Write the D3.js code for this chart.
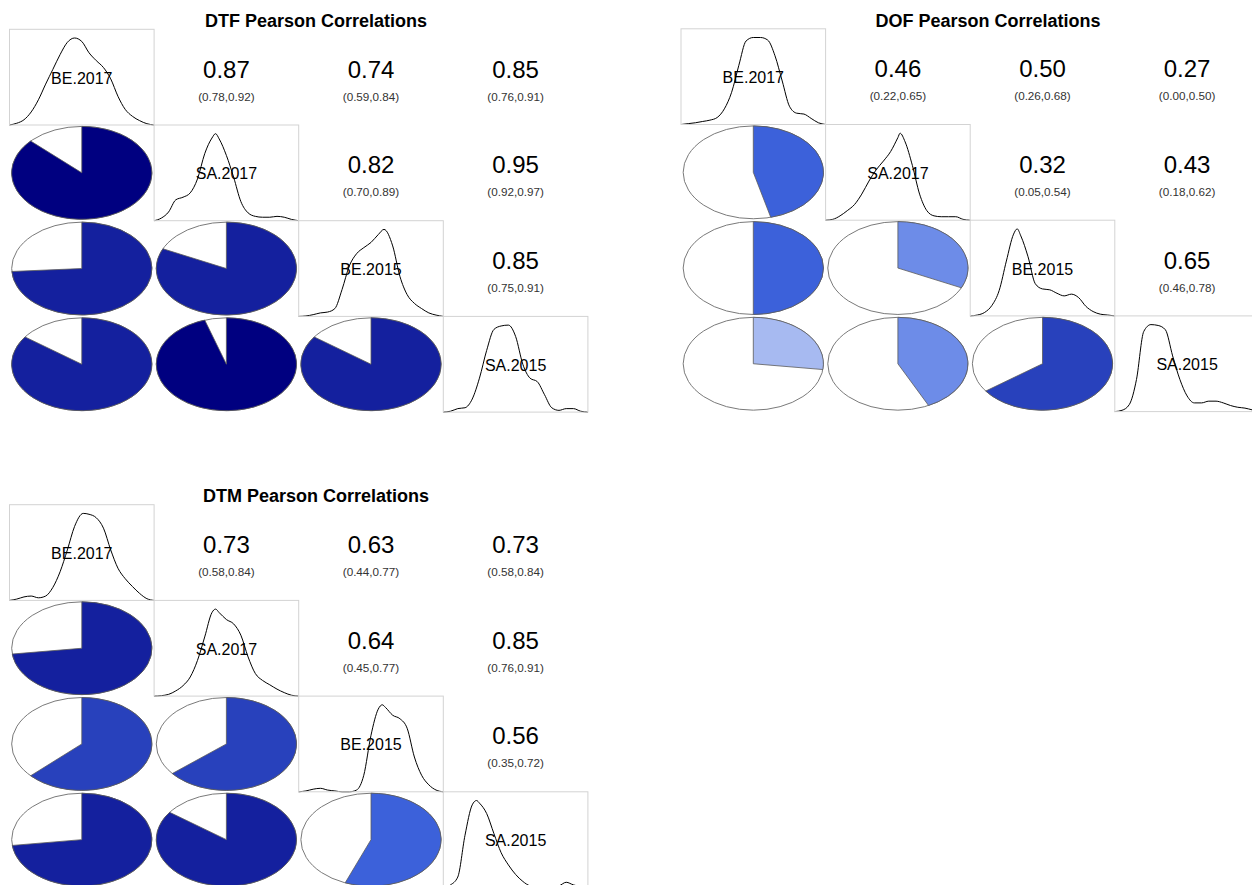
<!DOCTYPE html>
<html>
<head>
<meta charset="utf-8">
<script src="https://cdn.jsdelivr.net/npm/d3@7"></script>
<style>
  html, body { margin: 0; padding: 0; background: #ffffff; }
  svg { display: block; }
  text { font-family: "Liberation Sans", Arial, Helvetica, sans-serif; }
</style>
</head>
<body>
<svg id="chart" width="1252" height="885"></svg>
<script>
// ---- Variables and pairings --------------------------------------------
const variables = ["BE.2017", "SA.2017", "BE.2015", "SA.2015"];
// upper-triangle pair order: (1,2) (1,3) (1,4) (2,3) (2,4) (3,4)
const pairRows = [0, 0, 0, 1, 1, 2];
const pairCols = [1, 2, 3, 2, 3, 3];

const panelNames = ["DTF", "DOF", "DTM"];

// ---- Pearson correlations with 95% confidence bounds --------------------
const corrDTF = [0.87, 0.74, 0.85, 0.82, 0.95, 0.85];
const lowDTF  = [0.78, 0.59, 0.76, 0.70, 0.92, 0.75];
const highDTF = [0.92, 0.84, 0.91, 0.89, 0.97, 0.91];

const corrDOF = [0.46, 0.50, 0.27, 0.32, 0.428, 0.65];
const lowDOF  = [0.22, 0.26, 0.00, 0.05, 0.18, 0.46];
const highDOF = [0.65, 0.68, 0.50, 0.54, 0.62, 0.78];

const corrDTM = [0.73, 0.63, 0.73, 0.64, 0.85, 0.56];
const lowDTM  = [0.58, 0.44, 0.58, 0.45, 0.76, 0.35];
const highDTM = [0.84, 0.77, 0.84, 0.77, 0.91, 0.72];

// ---- Kernel density shapes: [relative position in range, relative density]
const densDTF = [
  [[0,0],[0.05,0.02],[0.10,0.06],[0.15,0.15],[0.20,0.29],[0.25,0.47],[0.30,0.64],[0.35,0.81],[0.40,0.95],[0.45,1.0],[0.50,0.96],[0.55,0.83],[0.60,0.74],[0.65,0.66],[0.70,0.53],[0.75,0.33],[0.80,0.18],[0.85,0.10],[0.90,0.05],[0.95,0.015],[1,0]],
  [[0,0],[0.05,0.03],[0.10,0.10],[0.15,0.24],[0.20,0.27],[0.25,0.32],[0.30,0.48],[0.35,0.77],[0.40,0.95],[0.425,1.0],[0.45,0.94],[0.50,0.75],[0.55,0.50],[0.60,0.22],[0.65,0.09],[0.70,0.05],[0.75,0.04],[0.80,0.04],[0.85,0.05],[0.90,0.04],[0.95,0.015],[1,0]],
  [[0,0],[0.05,0.005],[0.10,0.02],[0.15,0.04],[0.20,0.05],[0.25,0.09],[0.30,0.31],[0.35,0.58],[0.40,0.72],[0.45,0.79],[0.50,0.85],[0.55,0.94],[0.59,1.0],[0.65,0.81],[0.70,0.46],[0.75,0.25],[0.80,0.15],[0.85,0.09],[0.90,0.04],[0.95,0.015],[1,0]],
  [[0,0],[0.05,0.01],[0.10,0.04],[0.15,0.05],[0.20,0.15],[0.25,0.39],[0.30,0.71],[0.35,0.95],[0.40,0.99],[0.45,1.0],[0.50,0.87],[0.55,0.55],[0.60,0.39],[0.65,0.35],[0.70,0.20],[0.75,0.05],[0.80,0.02],[0.85,0.04],[0.90,0.04],[0.95,0.01],[1,0]]
];
const densDOF = [
  [[0,0],[0.05,0.01],[0.10,0.02],[0.15,0.035],[0.20,0.05],[0.25,0.08],[0.30,0.18],[0.35,0.37],[0.40,0.68],[0.45,0.96],[0.50,1.0],[0.55,1.0],[0.60,0.97],[0.65,0.79],[0.70,0.50],[0.75,0.21],[0.80,0.13],[0.85,0.12],[0.90,0.07],[0.95,0.02],[1,0]],
  [[0,0],[0.05,0.01],[0.10,0.05],[0.15,0.11],[0.20,0.18],[0.25,0.30],[0.30,0.45],[0.35,0.58],[0.40,0.68],[0.45,0.79],[0.50,0.95],[0.515,1.0],[0.55,0.90],[0.60,0.63],[0.65,0.30],[0.70,0.11],[0.75,0.05],[0.80,0.04],[0.85,0.04],[0.90,0.04],[0.95,0.01],[1,0]],
  [[0,0],[0.05,0.01],[0.10,0.04],[0.15,0.12],[0.20,0.29],[0.25,0.63],[0.30,0.94],[0.325,1.0],[0.35,0.92],[0.40,0.68],[0.45,0.37],[0.50,0.31],[0.55,0.30],[0.60,0.26],[0.65,0.23],[0.70,0.25],[0.75,0.21],[0.80,0.11],[0.85,0.05],[0.90,0.02],[0.95,0.01],[1,0]],
  [[0,0],[0.05,0.015],[0.10,0.08],[0.15,0.37],[0.20,0.92],[0.25,1.0],[0.30,0.99],[0.35,0.94],[0.40,0.64],[0.45,0.37],[0.50,0.18],[0.55,0.10],[0.60,0.10],[0.65,0.12],[0.70,0.12],[0.75,0.10],[0.80,0.07],[0.85,0.05],[0.90,0.04],[0.95,0.02],[1,0]]
];
const densDTM = [
  [[0,0],[0.05,0.015],[0.10,0.04],[0.15,0.05],[0.20,0.03],[0.25,0.05],[0.30,0.15],[0.35,0.33],[0.40,0.58],[0.45,0.85],[0.51,1.0],[0.55,0.99],[0.60,0.95],[0.65,0.83],[0.70,0.58],[0.75,0.37],[0.80,0.25],[0.85,0.16],[0.90,0.08],[0.95,0.02],[1,0]],
  [[0,0],[0.05,0.005],[0.10,0.02],[0.15,0.06],[0.20,0.12],[0.25,0.22],[0.30,0.41],[0.35,0.68],[0.40,0.96],[0.425,1.0],[0.45,0.96],[0.50,0.88],[0.55,0.83],[0.60,0.70],[0.65,0.45],[0.70,0.26],[0.75,0.18],[0.80,0.13],[0.85,0.08],[0.90,0.04],[0.95,0.01],[1,0]],
  [[0,0],[0.05,0.01],[0.10,0.03],[0.15,0.04],[0.20,0.02],[0.25,0.01],[0.30,0],[0.35,0],[0.40,0.02],[0.45,0.19],[0.50,0.65],[0.55,0.95],[0.578,1.0],[0.60,0.97],[0.65,0.88],[0.70,0.84],[0.75,0.73],[0.80,0.40],[0.85,0.19],[0.90,0.08],[0.95,0.02],[1,0]],
  [[0,0],[0.05,0.03],[0.10,0.12],[0.15,0.60],[0.20,0.95],[0.23,1.0],[0.25,0.97],[0.30,0.85],[0.35,0.62],[0.40,0.40],[0.45,0.26],[0.50,0.15],[0.55,0.07],[0.60,0.02],[0.65,0.01],[0.70,0.005],[0.75,0.01],[0.80,0.02],[0.85,0.06],[0.90,0.03],[0.95,0.01],[1,0]]
];

// ---- Assemble panels -----------------------------------------------------
const panels = [
  { name: panelNames[0], corr: corrDTF, low: lowDTF, high: highDTF, dens: densDTF, x0: 9.5,  y0: 29.3,  titleX: 316, titleY: 26.5 },
  { name: panelNames[1], corr: corrDOF, low: lowDOF, high: highDOF, dens: densDOF, x0: 681,  y0: 28.8,  titleX: 988, titleY: 26.5 },
  { name: panelNames[2], corr: corrDTM, low: lowDTM, high: highDTM, dens: densDTM, x0: 9.5,  y0: 504.7, titleX: 316, titleY: 501.5 }
];

const cellW = 144.6, cellH = 95.7;

// Diverging palette red -> salmon -> white -> royalblue -> navy, 14 bins over [-1, 1]
const ramp = d3.piecewise(d3.interpolateRgb, ["red", "salmon", "white", "royalblue", "navy"]);
const palette = d3.quantize(ramp, 14);
const colorScale = d3.scaleQuantize().domain([-1, 1]).range(palette);

const fmt = d3.format(".2f");
const svg = d3.select("#chart");

const pieArc = d3.arc()
  .innerRadius(0)
  .outerRadius(1)
  .startAngle(0)
  .endAngle(r => 2 * Math.PI * r);

panels.forEach(p => {
  const g = svg.append("g").attr("class", "panel");

  const x = d3.scaleBand().domain(variables).range([p.x0, p.x0 + cellW * variables.length]);
  const y = d3.scaleBand().domain(variables).range([p.y0, p.y0 + cellH * variables.length]);
  const bw = x.bandwidth(), bh = y.bandwidth();

  // Title
  g.append("text")
    .attr("x", p.titleX).attr("y", p.titleY)
    .attr("text-anchor", "middle")
    .attr("font-size", 18).attr("font-weight", "bold")
    .attr("fill", "#000")
    .text(`${p.name} Pearson Correlations`);

  // Diagonal: density curves with variable names
  variables.forEach((v, i) => {
    const cx = x(v), cy = y(v);
    const pts = p.dens[i];
    const maxD = d3.max(pts, d => d[1]);
    const dx = d3.scaleLinear().domain([0, 1]).range([cx, cx + bw]);
    const dy = d3.scaleLinear().domain([0, maxD * 1.1]).range([cy + bh, cy]);
    const cell = g.append("g");
    cell.append("path")
      .attr("d", d3.line().x(d => dx(d[0])).y(d => dy(d[1])).curve(d3.curveMonotoneX)(pts))
      .attr("fill", "none").attr("stroke", "#000").attr("stroke-width", 1);
    cell.append("rect")
      .attr("x", cx).attr("y", cy).attr("width", bw).attr("height", bh)
      .attr("fill", "none").attr("stroke", "#d3d3d3").attr("stroke-width", 1);
    cell.append("text")
      .attr("x", cx + bw / 2).attr("y", cy + bh / 2 + 6.5)
      .attr("text-anchor", "middle").attr("font-size", 16).attr("fill", "#000")
      .text(v);
  });

  // Upper triangle: coefficient with confidence interval
  // Lower triangle: pie filled clockwise from 12 o'clock by the coefficient
  p.corr.forEach((r, k) => {
    const a = variables[pairRows[k]], b = variables[pairCols[k]];

    const ux = x(b) + bw / 2, uy = y(a) + bh / 2;
    g.append("text")
      .attr("x", ux).attr("y", uy + 0.5)
      .attr("text-anchor", "middle").attr("font-size", 24).attr("fill", "#000")
      .text(fmt(r));
    g.append("text")
      .attr("x", ux).attr("y", uy + 23.5)
      .attr("text-anchor", "middle").attr("font-size", 11.7).attr("fill", "#333")
      .text(`(${fmt(p.low[k])},${fmt(p.high[k])})`);

    const lx = x(a) + bw / 2, ly = y(b) + bh / 2;
    const rx = bw / 2 * 0.97, ry = bh / 2 * 0.97;
    g.append("ellipse")
      .attr("cx", lx).attr("cy", ly).attr("rx", rx).attr("ry", ry)
      .attr("fill", "none").attr("stroke", "#7a7a7a").attr("stroke-width", 1);
    g.append("path")
      .attr("d", pieArc(r))
      .attr("transform", `translate(${lx},${ly}) scale(${rx},${ry})`)
      .attr("vector-effect", "non-scaling-stroke")
      .attr("fill", colorScale(r))
      .attr("stroke", "#5a5a5a").attr("stroke-width", 0.8);
  });
});
</script>
</body>
</html>
